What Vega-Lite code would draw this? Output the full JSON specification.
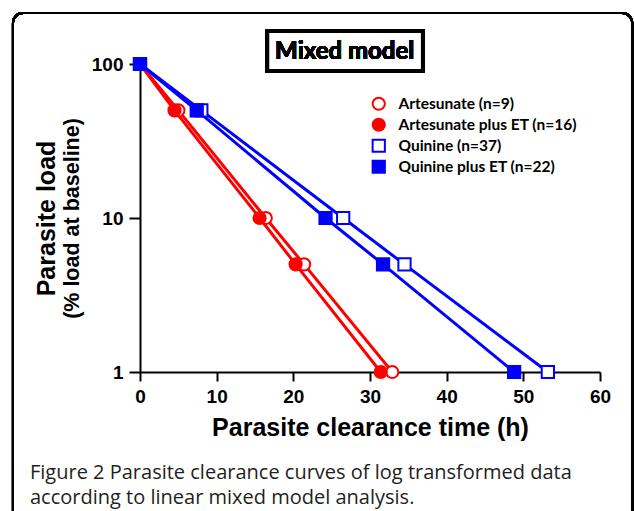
{
  "$schema": "https://vega.github.io/schema/vega-lite/v6.json",
  "autosize": {"type": "none"},
  "width": 460,
  "height": 308,
  "padding": {"left": 140, "top": 64, "right": 34, "bottom": 139},
  "background": "white",
  "config": {"view": {"stroke": null}},
  "title": {
    "text": ["Figure 2 Parasite clearance curves of log transformed data", "according to linear mixed model analysis."],
    "orient": "bottom",
    "anchor": "start",
    "frame": "group",
    "offset": -58,
    "dx": -110,
    "font": "Open Sans",
    "fontSize": 20,
    "fontWeight": "normal",
    "color": "#231f20",
    "lineHeight": 25,
    "baseline": "top"
  },
  "data": {
    "values": [
      {"series": "Artesunate (n=9)", "time": 0, "load": 100},
      {"series": "Artesunate (n=9)", "time": 5.0, "load": 50},
      {"series": "Artesunate (n=9)", "time": 16.4, "load": 10},
      {"series": "Artesunate (n=9)", "time": 21.4, "load": 5},
      {"series": "Artesunate (n=9)", "time": 32.9, "load": 1},
      {"series": "Artesunate plus ET (n=16)", "time": 0, "load": 100},
      {"series": "Artesunate plus ET (n=16)", "time": 4.5, "load": 50},
      {"series": "Artesunate plus ET (n=16)", "time": 15.6, "load": 10},
      {"series": "Artesunate plus ET (n=16)", "time": 20.3, "load": 5},
      {"series": "Artesunate plus ET (n=16)", "time": 31.4, "load": 1},
      {"series": "Quinine (n=37)", "time": 0, "load": 100},
      {"series": "Quinine (n=37)", "time": 8.0, "load": 50},
      {"series": "Quinine (n=37)", "time": 26.5, "load": 10},
      {"series": "Quinine (n=37)", "time": 34.5, "load": 5},
      {"series": "Quinine (n=37)", "time": 53.2, "load": 1},
      {"series": "Quinine plus ET (n=22)", "time": 0, "load": 100},
      {"series": "Quinine plus ET (n=22)", "time": 7.4, "load": 50},
      {"series": "Quinine plus ET (n=22)", "time": 24.2, "load": 10},
      {"series": "Quinine plus ET (n=22)", "time": 31.7, "load": 5},
      {"series": "Quinine plus ET (n=22)", "time": 48.8, "load": 1}
    ]
  },
  "resolve": {"scale": {"x": "independent", "y": "independent"}},
  "layer": [
    {
      "layer": [
        {
          "mark": {"type": "line", "strokeWidth": 3},
          "encoding": {
            "x": {
              "field": "time", "type": "quantitative",
              "scale": {"domain": [0, 60], "nice": false},
              "axis": {
                "title": "Parasite clearance time (h)",
                "values": [0, 10, 20, 30, 40, 50, 60],
                "format": "d",
                "labelOverlap": false, "labelFlush": false,
                "labelFont": "Liberation Sans", "labelFontSize": 19, "labelFontWeight": "bold", "labelColor": "black", "labelPadding": 6,
                "titleFont": "Liberation Sans", "titleFontSize": 25, "titleFontWeight": "bold", "titleColor": "black", "titlePadding": 9,
                "ticks": true, "tickColor": "black", "tickWidth": 2, "tickSize": 9,
                "domainColor": "black", "domainWidth": 2, "grid": false
              }
            },
            "y": {
              "field": "load", "type": "quantitative",
              "scale": {"type": "log", "domain": [1, 100], "nice": false},
              "axis": {
                "orient": "left",
                "title": "(% load at baseline)", "titleX": -56.5, "titleBaseline": "bottom",
                "titleFont": "Liberation Sans", "titleFontSize": 21.5, "titleFontWeight": "bold", "titleColor": "black",
                "values": [1, 10, 100],
                "format": "d",
                "labelOverlap": false, "labelFlush": false,
                "labelFont": "Liberation Sans", "labelFontSize": 19, "labelFontWeight": "bold", "labelColor": "black", "labelPadding": 6,
                "ticks": true, "tickColor": "black", "tickWidth": 2, "tickSize": 11,
                "domainColor": "black", "domainWidth": 2, "grid": false
              }
            },
            "stroke": {
              "field": "series", "type": "nominal",
              "scale": {"domain": ["Artesunate (n=9)", "Artesunate plus ET (n=16)", "Quinine (n=37)", "Quinine plus ET (n=22)"], "range": ["#ff0000", "#ff0000", "#0000ff", "#0000ff"]},
              "legend": {
                "title": null, "orient": "none", "legendX": 231, "legendY": 32,
                "labelFont": "Lato", "labelFontSize": 15.5, "labelFontWeight": "bold", "labelColor": "black", "labelLimit": 400,
                "labelOffset": 12, "rowPadding": 0, "symbolSize": 400, "symbolStrokeWidth": 2
              }
            },
            "detail": {"field": "series"}
          }
        },
        {
          "mark": {"type": "point", "filled": true, "strokeWidth": 2, "opacity": 1},
          "encoding": {
            "x": {"field": "time", "type": "quantitative", "scale": {"domain": [0, 60], "nice": false}},
            "y": {"field": "load", "type": "quantitative", "scale": {"type": "log", "domain": [1, 100], "nice": false}},
            "stroke": {"field": "series", "type": "nominal", "legend": null},
            "fill": {
              "field": "series", "type": "nominal",
              "scale": {"domain": ["Artesunate (n=9)", "Artesunate plus ET (n=16)", "Quinine (n=37)", "Quinine plus ET (n=22)"], "range": ["#ffffff", "#ff0000", "#ffffff", "#0000ff"]},
              "legend": null
            },
            "shape": {
              "field": "series", "type": "nominal",
              "scale": {"domain": ["Artesunate (n=9)", "Artesunate plus ET (n=16)", "Quinine (n=37)", "Quinine plus ET (n=22)"], "range": ["circle", "circle", "square", "square"]},
              "legend": null
            },
            "size": {
              "field": "series", "type": "ordinal",
              "scale": {"domain": ["Artesunate (n=9)", "Artesunate plus ET (n=16)", "Quinine (n=37)", "Quinine plus ET (n=22)"], "range": [150, 150, 210, 210]},
              "legend": null
            }
          }
        }
      ]
    },
    {
      "mark": {"type": "rect", "fill": "transparent", "stroke": "black", "strokeWidth": 2, "cornerRadius": 10},
      "encoding": {
        "x": {"datum": -16.57, "type": "quantitative", "scale": {"domain": [0, 60], "nice": false}, "axis": null},
        "x2": {"datum": 64.2},
        "y": {"datum": 214.3, "type": "quantitative", "scale": {"type": "log", "domain": [1, 100], "nice": false}, "axis": null},
        "y2": {"datum": 0.109}
      }
    },
    {
      "mark": {"type": "rect", "fill": "white", "stroke": "black", "strokeWidth": 4},
      "encoding": {
        "x": {"datum": 16.6, "type": "quantitative", "scale": {"domain": [0, 60], "nice": false}, "axis": null},
        "x2": {"datum": 36.9},
        "y": {
          "datum": 163.8, "type": "quantitative",
          "scale": {"type": "log", "domain": [1, 100], "nice": false},
          "axis": {"orient": "left", "title": "Parasite load", "titleX": -81, "titleBaseline": "bottom", "titleFont": "Liberation Sans", "titleFontSize": 25, "titleFontWeight": "bold", "titleColor": "black", "labels": false, "ticks": false, "domain": false, "grid": false}
        },
        "y2": {"datum": 90.1}
      }
    },
    {
      "mark": {"type": "text", "text": "Mixed model", "font": "Lato", "fontSize": 24, "fontWeight": "bold", "color": "black", "align": "center", "baseline": "middle"},
      "encoding": {
        "x": {"datum": 26.7, "type": "quantitative", "scale": {"domain": [0, 60], "nice": false}, "axis": null},
        "y": {"datum": 119.7, "type": "quantitative", "scale": {"type": "log", "domain": [1, 100], "nice": false}, "axis": null}
      }
    }
  ]
}
